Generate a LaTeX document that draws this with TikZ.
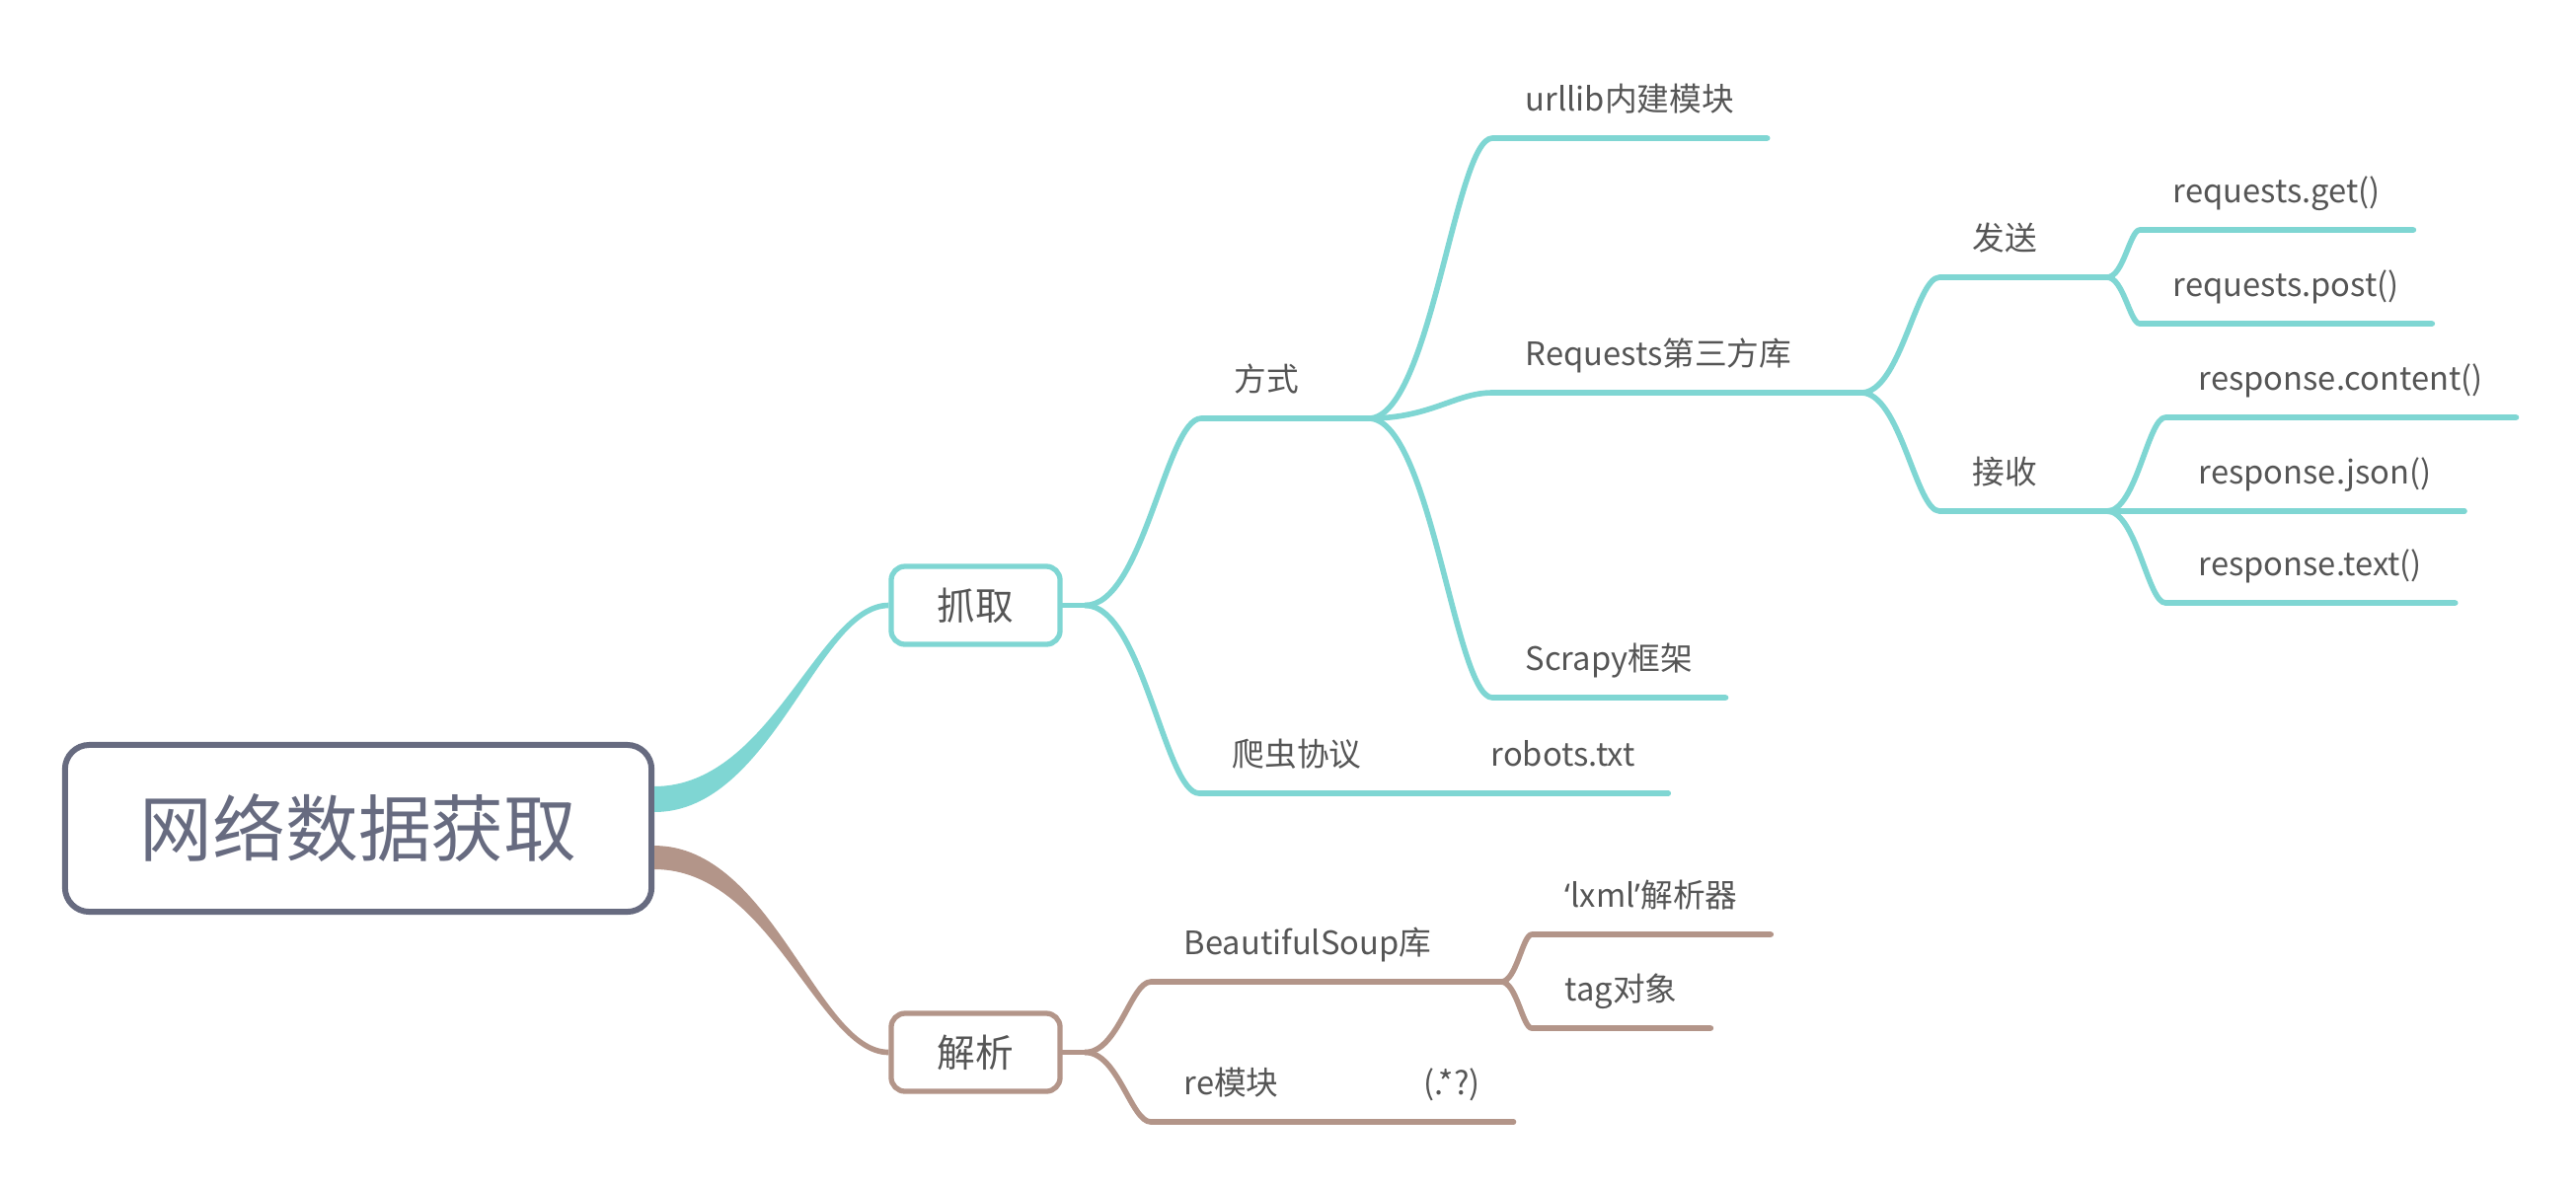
\documentclass[tikz,border=0pt]{standalone}
\usepackage{fontspec}
\setmainfont{Noto Sans CJK SC}
\newfontfamily\latinquote{Noto Sans}
\usetikzlibrary{calc}
\definecolor{rootSlate}{HTML}{676B80}
\definecolor{grabTeal}{HTML}{7FD6D3}
\definecolor{parseBrown}{HTML}{B39589}
\definecolor{labelGray}{HTML}{555555}
\tikzset{
  rootbox/.style={draw=rootSlate, line width=1.7pt, rounded corners=7pt, fill=white, minimum width=5.94cm, minimum height=1.69cm, font=\fontsize{21}{25}\selectfont, text=rootSlate},
  subbox/.style={line width=1.5pt, rounded corners=4pt, fill=white, minimum width=1.71cm, minimum height=0.79cm, font=\fontsize{11}{13}\selectfont, text=labelGray},
  topic/.style={anchor=south west, inner xsep=9.4pt, inner ysep=7.7pt, text depth=0pt, font=\fontsize{9.3}{11}\selectfont, text=labelGray},
  branch/.style={line width=1.6pt, line cap=round, line join=round},
}

\begin{document}
\begin{tikzpicture}[x=0.01cm, y=-0.01cm]
  \useasboundingbox (0,0) rectangle (2610,1202);
  % centre and the two main topics
  \node[rootbox] (root) at (363,839.5) {网络数据获取};
  \node[subbox, draw=grabTeal] (grab) at (988.5,613.5) {抓取};
  \node[subbox, draw=parseBrown] (parse) at (988.5,1066.5) {解析};
  % 抓取 side
  \node[topic] (way) at (1217,424) {方式};
  \node[topic] (spider) at (1215,804) {爬虫协议};
  \node[topic] (robots) at (1477,804) {robots.txt};
  \node[topic] (urllib) at (1512,140) {urllib内建模块};
  \node[topic] (req) at (1512,398) {Requests第三方库};
  \node[topic] (scrapy) at (1512,707) {Scrapy框架};
  \node[topic] (send) at (1965,281) {发送};
  \node[topic] (recv) at (1965,518) {接收};
  \node[topic] (get) at (2168,233) {requests.get()};
  \node[topic] (post) at (2168,328) {requests.post()};
  \node[topic] (content) at (2194,423) {response.content()};
  \node[topic] (json) at (2194,518) {response.json()};
  \node[topic] (txt) at (2194,611) {response.text()};
  % 解析 side
  \node[topic] (bs) at (1166,995) {BeautifulSoup库};
  \node[topic] (lxml) at (1552,947) {{\latinquote ‘}lxml{\latinquote ’}解析器};
  \node[topic] (tag) at (1552,1042) {tag对象};
  \node[topic] (remod) at (1166,1137) {re模块};
  \node[topic] (regex) at (1409,1137) {(.*?)};

  % fork points
  \coordinate (grab-j) at ([xshift=6.5pt]grab.east);
  \coordinate (parse-j) at ([xshift=6.5pt]parse.east);
  \foreach \n in {way, spider, req, send, recv, bs, remod}
    \coordinate (\n-j) at ([xshift=10.5pt]\n.south east);

  % tapered main branches
  \fill[grabTeal] let \p1=(root.east), \p2=(grab.west) in
    (\x1,\y1+12.1pt) .. controls (0.5*\x1+0.5*\x2,\y1+12.1pt) and (0.3*\x1+0.7*\x2,\y2+0.8pt) .. (\x2,\y2+0.8pt)
    -- (\x2,\y2-0.8pt) .. controls (0.3*\x1+0.7*\x2,\y2-0.8pt) and (0.5*\x1+0.5*\x2,\y1+4.7pt) .. (\x1,\y1+4.7pt) -- cycle;
  \fill[parseBrown] let \p1=(root.east), \p2=(parse.west) in
    (\x1,\y1-5pt) .. controls (0.5*\x1+0.5*\x2,\y1-5pt) and (0.3*\x1+0.7*\x2,\y2+0.8pt) .. (\x2,\y2+0.8pt)
    -- (\x2,\y2-0.8pt) .. controls (0.3*\x1+0.7*\x2,\y2-0.8pt) and (0.5*\x1+0.5*\x2,\y1-11.8pt) .. (\x1,\y1-11.8pt) -- cycle;

  % stubs from parents to their forks
  \draw[branch, grabTeal] (grab.east) -- (grab-j);
  \draw[branch, parseBrown] (parse.east) -- (parse-j);
  \foreach \n in {way, spider, req, send, recv}
    \draw[branch, grabTeal] (\n.south east) -- (\n-j);
  \foreach \n in {bs, remod}
    \draw[branch, parseBrown] (\n.south east) -- (\n-j);

  % curved links with underlines
  \foreach \src/\dst in {grab-j/way, grab-j/spider, way-j/urllib, way-j/req, way-j/scrapy,
      spider-j/robots, req-j/send, req-j/recv, send-j/get, send-j/post,
      recv-j/content, recv-j/json, recv-j/txt}
    \draw[branch, grabTeal] let \p1=(\src), \p2=(\dst.south west) in
      (\p1) .. controls (0.5*\x1+0.5*\x2,\y1) and (0.3*\x1+0.7*\x2,\y2) .. (\p2) -- (\dst.south east);
  \foreach \src/\dst in {parse-j/bs, parse-j/remod, bs-j/lxml, bs-j/tag, remod-j/regex}
    \draw[branch, parseBrown] let \p1=(\src), \p2=(\dst.south west) in
      (\p1) .. controls (0.5*\x1+0.5*\x2,\y1) and (0.3*\x1+0.7*\x2,\y2) .. (\p2) -- (\dst.south east);
\end{tikzpicture}
\end{document}
